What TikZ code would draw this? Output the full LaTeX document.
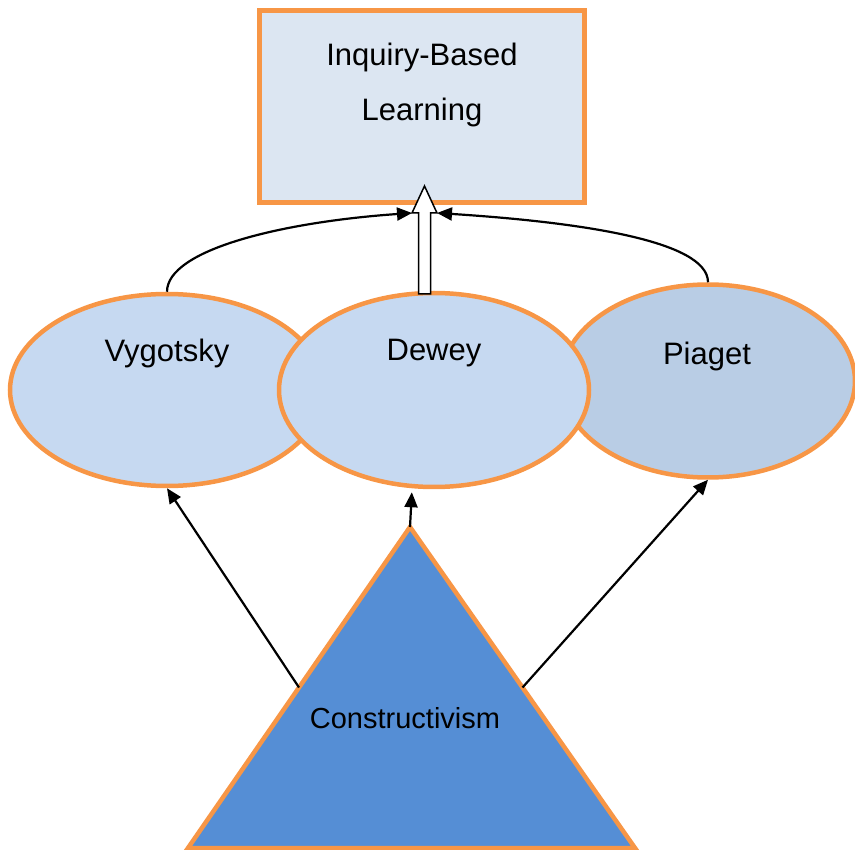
\documentclass[tikz,border=0pt]{standalone}
\usepackage{fontspec}
\setmainfont{Liberation Sans}
\usetikzlibrary{shapes.geometric,arrows.meta,calc}
\definecolor{frame}{HTML}{F79646}
\definecolor{boxfill}{HTML}{DCE6F2}
\definecolor{ovalfill}{HTML}{C6D9F1}
\definecolor{ovaldark}{HTML}{B9CDE5}
\definecolor{trifill}{HTML}{558ED5}
\begin{document}
\begin{tikzpicture}[x=1pt,y=-1pt,
  oval/.style={ellipse, draw=frame, line width=4.5pt, inner sep=0pt, fill=ovalfill},
  lbl/.style={anchor=base, inner sep=0pt, font=\fontsize{31}{37}\selectfont},
  link/.style={line width=2.2pt, -{Triangle[length=15pt,width=13pt]}},
]
\useasboundingbox (0,0) rectangle (855,850);

% goal box
\node[draw=frame, fill=boxfill, line width=4.5pt, inner sep=0pt,
      minimum width=325pt, minimum height=192pt] (ibl) at (422,106.5) {};
\node[lbl] (iblA) at (422,66) {Inquiry-Based};
\node[lbl] (iblB) at (422,121) {Learning};

% the three theorists
\node[oval, minimum width=314pt, minimum height=192pt] (vyg) at (167,390) {};
\node[oval, fill=ovaldark, minimum width=294pt, minimum height=193pt] (pia) at (708,381) {};
\node[oval, minimum width=310pt, minimum height=194pt] (dew) at (434,390) {};
\node[lbl] (vygT) at (167,362) {Vygotsky};
\node[lbl] (dewT) at (434,361) {Dewey};
\node[lbl] (piaT) at (707,365) {Piaget};

% foundation triangle
\coordinate (apex) at (410,527);
\coordinate (bl) at (188,848);
\coordinate (br) at (635,848);
\draw[frame, fill=trifill, line width=4.5pt, line join=miter] (apex) -- (bl) -- (br) -- cycle;
\node[lbl, font=\fontsize{29}{35}\selectfont] (con) at (405,728) {Constructivism};

% arrows from the foundation to each theorist
\draw[link] ($(apex)!0.5!(bl)$) -- (vyg.south);
\draw[link, shorten >=3pt] (apex) -- ($(dew.south -| apex)+(2,0)$);
\draw[link] ($(apex)!0.5!(br)$) -- (pia.south);

% block arrow from Dewey up into the box
\coordinate (stem) at (424.5,294);
\coordinate (tip) at (424.5,186);
\coordinate (headL) at ($(stem)+(-12.5,-81)$);
\coordinate (headR) at ($(stem)+(12.5,-81)$);
\draw[fill=white, line width=1.5pt, line join=miter]
  ($(stem)+(-6,0)$) -- ($(stem)+(-6,-81)$) -- (headL) -- (tip) -- (headR)
  -- ($(stem)+(6,-81)$) -- ($(stem)+(6,0)$) -- cycle;

% curved arrows from Vygotsky and Piaget
\draw[link] (vyg.north) .. controls +(0,-42) and +(-130,9) .. (headL);
\draw[link] (pia.north) .. controls +(0,-42) and +(140,9) .. (headR);
\end{tikzpicture}
\end{document}
